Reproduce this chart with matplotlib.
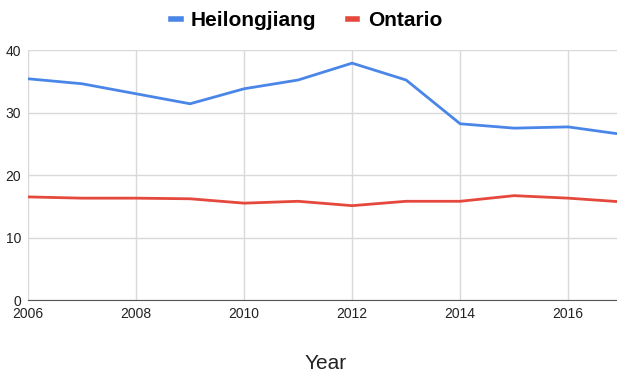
import matplotlib
matplotlib.use("Agg")
import matplotlib.pyplot as plt

years = [2006, 2007, 2008, 2009, 2010, 2011, 2012, 2013, 2014, 2015, 2016, 2017]
heilongjiang = [35.4, 34.6, 33.0, 31.4, 33.8, 35.2, 37.9, 35.2, 28.2, 27.5, 27.7, 26.5]
ontario = [16.5, 16.3, 16.3, 16.2, 15.5, 15.8, 15.1, 15.8, 15.8, 16.7, 16.3, 15.7]
xticks = [2006, 2008, 2010, 2012, 2014, 2016]
yticks = [0, 10, 20, 30, 40]

plt.rcParams['font.family'] = ['Liberation Sans', 'DejaVu Sans']

fig = plt.figure(figsize=(6.17, 3.76), dpi=100)
ax = fig.add_axes([0.0454, 0.202, 0.963, 0.665])

ax.plot(years, heilongjiang, color="#4a86e8", lw=2, label="Heilongjiang")
ax.plot(years, ontario, color="#e5483c", lw=2, label="Ontario")

ax.set_xlim(2006, 2017)
ax.set_ylim(0, 40)
ax.set_xticks(xticks)
ax.set_yticks(yticks)
ax.grid(True, color="#d9d9d9", lw=1)
ax.set_axisbelow(True)
for s in ["top", "right", "left"]:
    ax.spines[s].set_visible(False)
ax.spines["bottom"].set_color("#555555")
ax.tick_params(length=0, labelsize=10, colors="#222222")
ax.tick_params(axis="x", pad=5)
ax.tick_params(axis="y", pad=5)

ax.set_xlabel("Year", fontsize=15, labelpad=24, color="#222222")

leg = fig.legend(loc="upper center", bbox_to_anchor=(0.497, 1.02), ncol=2, frameon=False,
                 prop={"weight": "bold", "size": 15}, handlelength=0.45, handletextpad=0.5,
                 columnspacing=1.5)
for h in leg.get_lines():
    h.set_linewidth(4)

fig.savefig("out.png", dpi=100)
